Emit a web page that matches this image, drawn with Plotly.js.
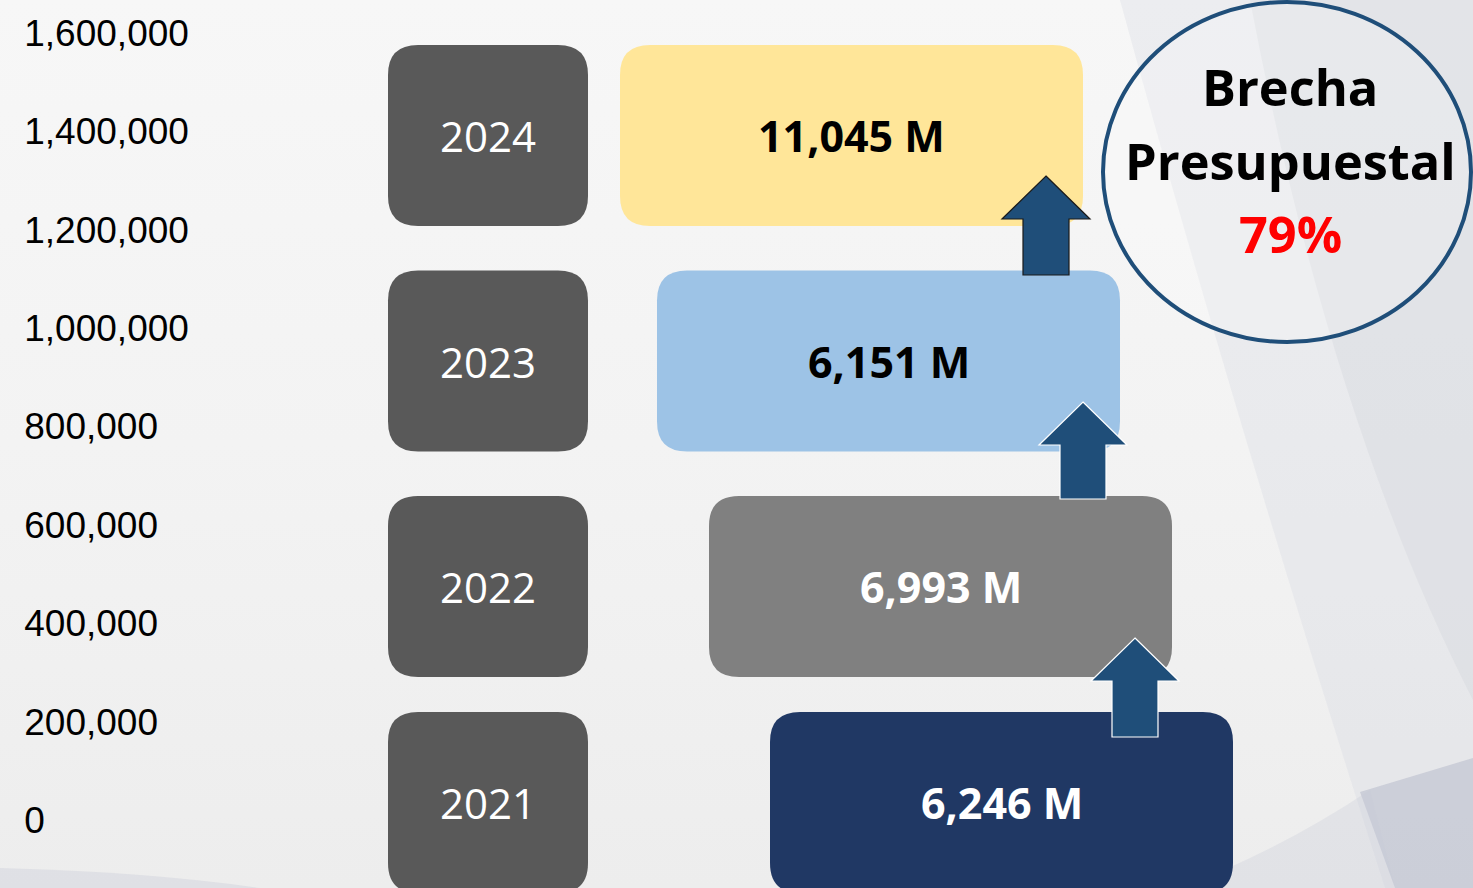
<!DOCTYPE html>
<html>
<head>
<meta charset="utf-8">
<script src="https://cdn.plot.ly/plotly-3.0.1.min.js"></script>
<style>
  html, body { margin: 0; padding: 0; }
  body { width: 1473px; height: 888px; overflow: hidden;
         background: linear-gradient(180deg, #f7f7f7 0%, #f3f3f3 50%, #ededed 100%); }
  #chart { width: 1473px; height: 888px; }
</style>
</head>
<body>
<div id="chart"></div>
<script>
// ---------------- DATA ----------------
const years = ['2021', '2022', '2023', '2024'];
const amountsM = [6246, 6993, 6151, 11045];          // millones
const gapPct = 79;                                     // brecha presupuestal (%)
const gapLines = ['Brecha', 'Presupuestal'];
const yTickValues = [0, 200000, 400000, 600000, 800000, 1000000, 1200000, 1400000, 1600000];

// ---------------- STYLE / GEOMETRY ----------------
const W = 1473, H = 888;
const yearBoxColor = '#595959';
const valueBoxColors = ['#203864', '#808080', '#9DC3E6', '#FFE699'];
const valueTextColors = ['#ffffff', '#ffffff', '#000000', '#000000'];
const arrowColor = '#1F4E79';
const arrowEdge = ['#ffffff', '#ffffff', '#1a1a1a'];   // arrow into 2022, 2023, 2024
const geo = {
  rowCenterY: [802.5, 586.5, 361, 135.5],
  boxH: 181, radius: 30,
  yearX0: 388, yearW: 200,
  valueX0: [770, 709, 657, 620], valueW: 463,
  arrowTip: [638, 402, 176], arrowBottom: [737, 499, 275],
  arrowHeadHalf: 44, arrowShaftHalf: 23, arrowHeadH: 43, arrowOffset: 37,
  circle: {x0: 1103, x1: 1471, y0: 2, y1: 342, cx: 1290},
  circleTextY: [86, 160, 233]
};
const FONT = '"Open Sans", "Noto Sans", sans-serif';

function roundRect(x0, y0, w, h, r) {
  const x1 = x0 + w, y1 = y0 + h;
  return `M${x0 + r},${y0} L${x1 - r},${y0} Q${x1},${y0} ${x1},${y0 + r} ` +
         `L${x1},${y1 - r} Q${x1},${y1} ${x1 - r},${y1} L${x0 + r},${y1} ` +
         `Q${x0},${y1} ${x0},${y1 - r} L${x0},${y0 + r} Q${x0},${y0} ${x0 + r},${y0} Z`;
}
function arrowPath(cx, tip, bottom) {
  const hh = geo.arrowHeadHalf, sh = geo.arrowShaftHalf, base = tip + geo.arrowHeadH;
  return `M${cx},${tip} L${cx + hh},${base} L${cx + sh},${base} L${cx + sh},${bottom} ` +
         `L${cx - sh},${bottom} L${cx - sh},${base} L${cx - hh},${base} Z`;
}

const shapes = [];
// background decoration (right-hand curved panel and bottom band)
shapes.push({type: 'path', xref: 'x', yref: 'y2', layer: 'below', line: {width: 0},
  fillcolor: 'rgba(215,217,225,0.35)',
  path: `M1120,0 Q1235,420 1385,888 L${W},888 L${W},0 Z`});
shapes.push({type: 'path', xref: 'x', yref: 'y2', layer: 'below', line: {width: 0},
  fillcolor: 'rgba(205,207,216,0.3)',
  path: `M1250,0 Q1330,420 1473,700 L${W},0 Z`});
shapes.push({type: 'path', xref: 'x', yref: 'y2', layer: 'below', line: {width: 0},
  fillcolor: 'rgba(150,156,180,0.32)',
  path: `M1360,792 L${W},758 L${W},888 L1395,888 Z`});
shapes.push({type: 'path', xref: 'x', yref: 'y2', layer: 'below', line: {width: 0},
  fillcolor: 'rgba(210,212,222,0.5)',
  path: `M0,868 Q150,872 260,888 L0,888 Z`});
shapes.push({type: 'path', xref: 'x', yref: 'y2', layer: 'below', line: {width: 0},
  fillcolor: 'rgba(200,203,214,0.3)',
  path: `M1180,888 Q1280,850 1370,790 L1395,888 Z`});

const annotations = [];
years.forEach((yr, i) => {
  const cy = geo.rowCenterY[i], y0 = cy - geo.boxH / 2;
  shapes.push({type: 'path', xref: 'x', yref: 'y2', line: {width: 0},
    fillcolor: yearBoxColor, path: roundRect(geo.yearX0, y0, geo.yearW, geo.boxH, geo.radius)});
  shapes.push({type: 'path', xref: 'x', yref: 'y2', line: {width: 0},
    fillcolor: valueBoxColors[i], path: roundRect(geo.valueX0[i], y0, geo.valueW, geo.boxH, geo.radius)});
  annotations.push({xref: 'x', yref: 'y2', x: geo.yearX0 + geo.yearW / 2, y: cy,
    text: yr, showarrow: false, font: {family: FONT, size: 42, color: '#ffffff'}});
  annotations.push({xref: 'x', yref: 'y2', x: geo.valueX0[i] + geo.valueW / 2, y: cy,
    text: '<b>' + amountsM[i].toLocaleString('en-US') + ' M</b>', showarrow: false,
    font: {family: FONT, size: 43, color: valueTextColors[i]}});
});
// arrows from each year to the next
for (let i = 0; i < years.length - 1; i++) {
  const cx = geo.valueX0[i + 1] + geo.valueW - geo.arrowOffset;
  shapes.push({type: 'path', xref: 'x', yref: 'y2', fillcolor: arrowColor,
    line: {color: arrowEdge[i], width: 1.2},
    path: arrowPath(cx, geo.arrowTip[i], geo.arrowBottom[i])});
}
// brecha circle
shapes.push({type: 'circle', xref: 'x', yref: 'y2',
  x0: geo.circle.x0, x1: geo.circle.x1, y0: geo.circle.y0, y1: geo.circle.y1,
  line: {color: arrowColor, width: 4}, fillcolor: 'rgba(255,255,255,0.2)'});
gapLines.concat([gapPct + '%']).forEach((t, k) => {
  annotations.push({xref: 'x', yref: 'y2', x: geo.circle.cx, y: geo.circleTextY[k],
    text: '<b>' + t + '</b>', showarrow: false,
    font: {family: FONT, size: 50.5, color: k === 2 ? '#FF0000' : '#000000'}});
});

const traces = [{
  type: 'scatter', mode: 'markers', x: [0], y: [0], xaxis: 'x', yaxis: 'y',
  marker: {opacity: 0}, hoverinfo: 'skip', showlegend: false
}];

const layout = {
  width: W, height: H,
  margin: {l: 0, r: 0, t: 0, b: 0, pad: 0},
  paper_bgcolor: 'rgba(0,0,0,0)', plot_bgcolor: 'rgba(0,0,0,0)',
  showlegend: false,
  xaxis: {range: [0, W], visible: false, fixedrange: true},
  yaxis: {
    range: [-138200, 1667000], tickvals: yTickValues, tickformat: ',d',
    showgrid: false, zeroline: false, showline: false, ticks: '',
    anchor: 'free', position: 0.0158, side: 'right',
    tickfont: {family: '"Liberation Sans", Arial, sans-serif', size: 37, color: '#000000'},
    fixedrange: true
  },
  yaxis2: {range: [H, 0], overlaying: 'y', visible: false, fixedrange: true},
  shapes: shapes,
  annotations: annotations
};

Plotly.newPlot('chart', traces, layout, {staticPlot: true, displayModeBar: false});
</script>
</body>
</html>
